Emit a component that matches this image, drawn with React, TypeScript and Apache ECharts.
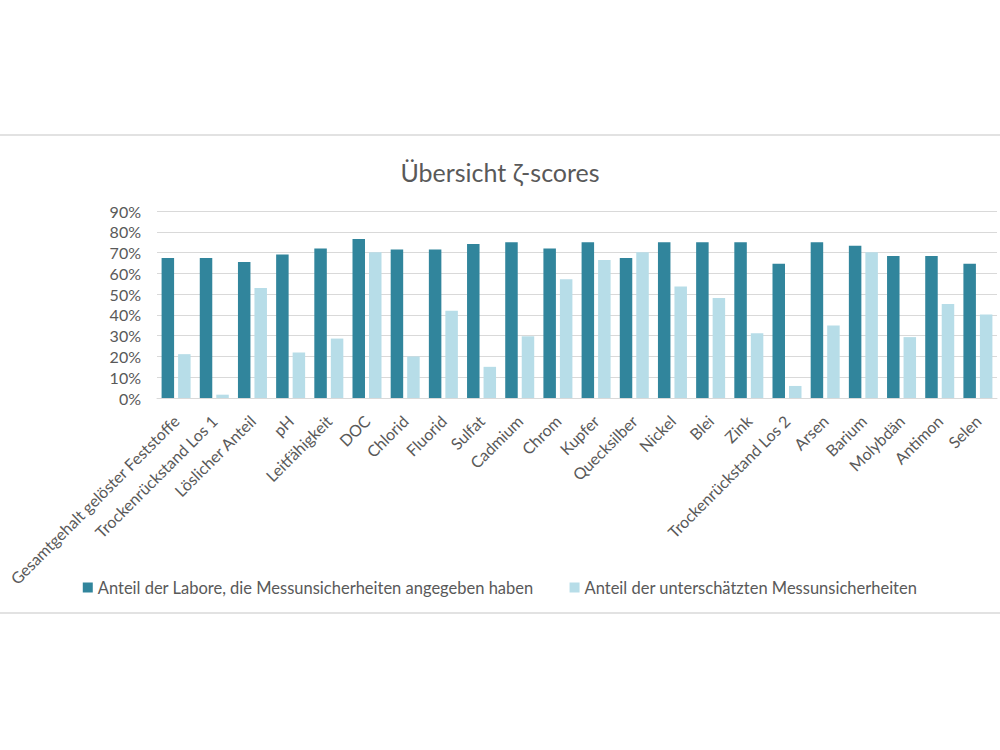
import React, { useEffect, useRef } from "react";
import * as echarts from "echarts";

const categories = [
  "Gesamtgehalt gelöster Feststoffe",
  "Trockenrückstand Los 1",
  "Löslicher Anteil",
  "pH",
  "Leitfähigkeit",
  "DOC",
  "Chlorid",
  "Fluorid",
  "Sulfat",
  "Cadmium",
  "Chrom",
  "Kupfer",
  "Quecksilber",
  "Nickel",
  "Blei",
  "Zink",
  "Trockenrückstand Los 2",
  "Arsen",
  "Barium",
  "Molybdän",
  "Antimon",
  "Selen",
];

const seriesNames = [
  "Anteil der Labore, die Messunsicherheiten angegeben haben",
  "Anteil der unterschätzten Messunsicherheiten",
];

const reportedShare = [
  0.674, 0.674, 0.655, 0.691, 0.72, 0.765, 0.715, 0.715, 0.741, 0.75, 0.72,
  0.75, 0.674, 0.75, 0.75, 0.75, 0.646, 0.75, 0.733, 0.683, 0.683, 0.646,
];

const underestimatedShare = [
  0.211, 0.016, 0.53, 0.219, 0.286, 0.701, 0.2, 0.42, 0.15, 0.297, 0.572,
  0.664, 0.701, 0.537, 0.481, 0.312, 0.058, 0.349, 0.701, 0.293, 0.453, 0.402,
];

const yTicks = { min: 0, max: 0.9, interval: 0.1 };

const FONT = "Lato, 'Open Sans', sans-serif";
const TEXT = "#595959";

export default function App() {
  const ref = useRef<HTMLDivElement>(null);

  useEffect(() => {
    if (!ref.current) return;
    const chart = echarts.init(ref.current, null, { renderer: "svg" });
    chart.setOption({
      animation: false,
      backgroundColor: "#ffffff",
      textStyle: { fontFamily: FONT },
      title: {
        text: "Übersicht ζ-scores",
        left: "center",
        top: 154,
        textStyle: {
          fontFamily: FONT,
          fontSize: 25,
          fontWeight: "normal",
          color: TEXT,
        },
      },
      legend: {
        top: 574,
        left: "center",
        itemWidth: 10,
        itemHeight: 10,
        itemGap: 36,
        icon: "rect",
        textStyle: { fontFamily: FONT, fontSize: 16.5, color: TEXT },
        data: seriesNames,
      },
      grid: { left: 157, right: 3, top: 211, bottom: 352, containLabel: false },
      xAxis: {
        type: "category",
        data: categories,
        axisLine: { show: true, lineStyle: { color: "#d9d9d9" } },
        axisTick: { show: false },
        axisLabel: {
          rotate: 45,
          interval: 0,
          margin: 20,
          fontFamily: FONT,
          fontSize: 16,
          color: TEXT,
        },
      },
      yAxis: {
        type: "value",
        min: yTicks.min,
        max: yTicks.max,
        interval: yTicks.interval,
        axisLine: { show: false },
        axisTick: { show: false },
        splitLine: { lineStyle: { color: "#d9d9d9", width: 1 } },
        axisLabel: {
          margin: 16,
          fontFamily: FONT,
          fontSize: 16,
          color: TEXT,
          formatter: (v: number) => `${Math.round(v * 100)}%`,
        },
      },
      series: [
        {
          name: seriesNames[0],
          type: "bar",
          data: reportedShare,
          barWidth: 12.5,
          barGap: "32%",
          itemStyle: { color: "#31859C" },
        },
        {
          name: seriesNames[1],
          type: "bar",
          data: underestimatedShare,
          barWidth: 12.5,
          barGap: "32%",
          itemStyle: { color: "#B7DDE8" },
        },
      ],
      graphic: [
        {
          type: "line",
          shape: { x1: 0, y1: 135, x2: 1000, y2: 135 },
          style: { stroke: "#d9d9d9", lineWidth: 1.5 },
        },
        {
          type: "line",
          shape: { x1: 0, y1: 613, x2: 1000, y2: 613 },
          style: { stroke: "#d9d9d9", lineWidth: 1.5 },
        },
      ],
    });
    return () => chart.dispose();
  }, []);

  return (
    <div
      ref={ref}
      style={{ position: "absolute", left: 0, top: 0, width: 1000, height: 750 }}
    />
  );
}
